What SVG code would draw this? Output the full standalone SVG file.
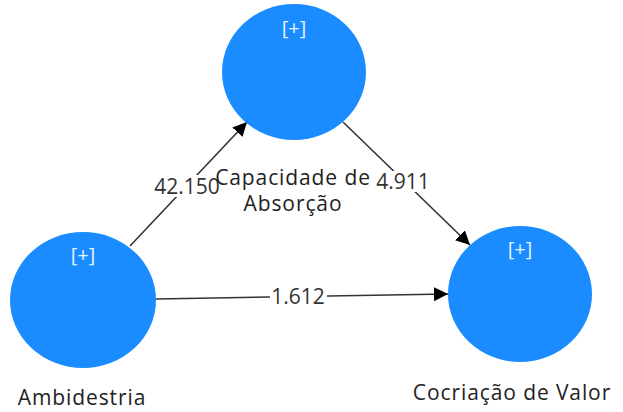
<svg xmlns="http://www.w3.org/2000/svg" width="623" height="412" viewBox="0 0 623 412">
<style>
.node{fill:#1a8cff;}
.plus{font-family:"Open Sans","Liberation Sans",sans-serif;font-size:20px;fill:#e6f2ff;text-anchor:middle;}
.lbl{font-family:"Open Sans","Liberation Sans",sans-serif;font-size:21px;letter-spacing:0.9px;fill:#222;text-anchor:middle;}
.elbl{font-family:"Open Sans","Liberation Sans",sans-serif;font-size:21px;fill:#333;text-anchor:middle;}
.edge{stroke:#333;stroke-width:1.6;fill:none;marker-end:url(#arr);}
.bg{fill:#fff;}
</style>
<defs>
<marker id="arr" markerUnits="userSpaceOnUse" markerWidth="16" markerHeight="16" refX="14" refY="7" orient="auto" viewBox="0 0 16 16">
<path d="M0,0 L14,7 L0,14 z" fill="#000"/>
</marker>
</defs>
<rect width="623" height="412" fill="#fff"/>
<g id="connectors">
<line class="edge" x1="130" y1="246" x2="247" y2="122"/>
<line class="edge" x1="343" y1="122" x2="470" y2="245"/>
<line class="edge" x1="156" y1="299" x2="448" y2="294"/>
<rect class="bg" x="152" y="175" width="69" height="22"/>
<text class="elbl" x="187" y="194">42.150</text>
<rect class="bg" x="376" y="171" width="55" height="21"/>
<text class="elbl" x="403" y="189">4.911</text>
<rect class="bg" x="270" y="286" width="57" height="21"/>
<text class="elbl" x="298" y="304">1.612</text>
</g>
<g id="capacidade">
<ellipse class="node" cx="294" cy="72" rx="72" ry="68"/>
<text class="plus" x="294" y="35">[+]</text>
<text class="lbl" x="293" y="185">Capacidade de</text>
<text class="lbl" x="293" y="211">Absorção</text>
</g>
<g id="ambidestria">
<ellipse class="node" cx="83" cy="300" rx="73" ry="68"/>
<text class="plus" x="83" y="262">[+]</text>
<text class="lbl" x="82" y="405">Ambidestria</text>
</g>
<g id="cocriacao">
<ellipse class="node" cx="520" cy="294" rx="72" ry="68"/>
<text class="plus" x="520" y="256">[+]</text>
<text class="lbl" x="512" y="400">Cocriação de Valor</text>
</g>
</svg>
